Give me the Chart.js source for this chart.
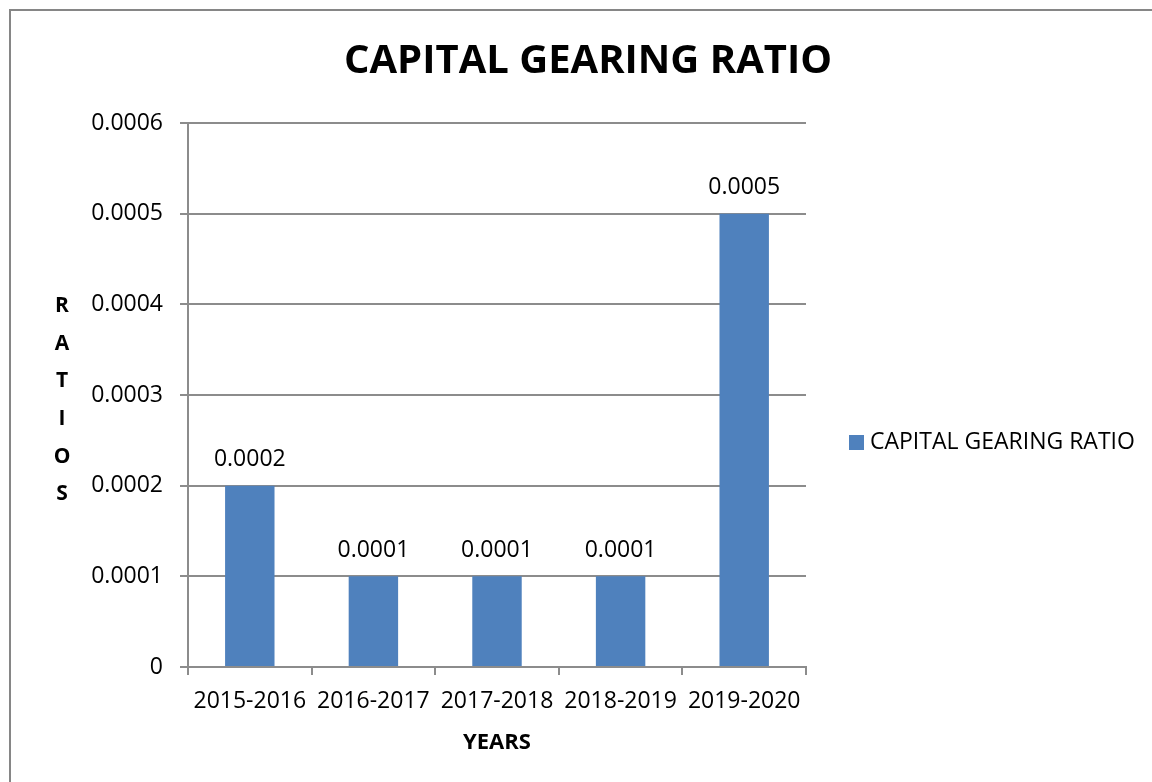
<!DOCTYPE html>
<html>
<head>
<meta charset="utf-8">
<script src="https://cdn.jsdelivr.net/npm/chart.js@4/dist/chart.umd.min.js"></script>
<style>
  html, body { margin: 0; padding: 0; background: #fff; }
  canvas { display: block; }
</style>
</head>
<body>
<canvas id="chart" width="1152" height="782"></canvas>
<script>
// chart data
const years = ["2015-2016", "2016-2017", "2017-2018", "2018-2019", "2019-2020"];
const gearingRatio = [0.0002, 0.0001, 0.0001, 0.0001, 0.0005];
const seriesName = "CAPITAL GEARING RATIO";
const chartTitle = "CAPITAL GEARING RATIO";
const xTitle = "YEARS";
const yTitleLetters = ["R", "A", "T", "I", "O", "S"];
const yMax = 0.0006;
const yStep = 0.0001;

const barColor = "#4F81BD";
const lineColor = "#8c8c8c";
const fontFamily = "'Open Sans', 'DejaVu Sans', sans-serif";

// frame, title, legend, stacked y title and value labels
const extras = {
  id: "extras",
  beforeDraw(c) {
    const ctx = c.ctx;
    ctx.save();
    ctx.strokeStyle = "#868686";
    ctx.lineWidth = 2;
    ctx.strokeRect(10, 10, 1300, 1000);
    ctx.restore();
  },
  afterDraw(c) {
    const ctx = c.ctx;
    ctx.save();
    ctx.fillStyle = "#000";

    // title
    ctx.font = "bold 40px " + fontFamily;
    ctx.textAlign = "center";
    ctx.textBaseline = "middle";
    ctx.fillText(chartTitle, 588, 62);

    // y title, one letter per line
    ctx.font = "bold 21px " + fontFamily;
    yTitleLetters.forEach((l, i) => {
      ctx.fillText(l, 62, 306 + i * 37.7);
    });

    // legend
    ctx.fillStyle = barColor;
    ctx.fillRect(849, 435, 15, 15);
    ctx.fillStyle = "#000";
    ctx.font = "23px " + fontFamily;
    ctx.textAlign = "left";
    ctx.fillText(seriesName, 870, 442);

    // value labels above bars
    ctx.textAlign = "center";
    const meta = c.getDatasetMeta(0);
    meta.data.forEach((bar, i) => {
      ctx.fillText(gearingRatio[i].toFixed(4), bar.x, bar.y - 26);
    });
    ctx.restore();
  },
};

new Chart(document.getElementById("chart"), {
  type: "bar",
  data: {
    labels: years,
    datasets: [
      {
        label: seriesName,
        data: gearingRatio,
        backgroundColor: barColor,
        barPercentage: 0.4,
        categoryPercentage: 1,
      },
    ],
  },
  options: {
    responsive: false,
    animation: false,
    devicePixelRatio: 1,
    layout: { padding: { top: 123, left: 0, right: 346, bottom: 0 } },
    plugins: {
      legend: { display: false },
      title: { display: false },
      tooltip: { enabled: false },
    },
    scales: {
      x: {
        afterFit: (scale) => { scale.height = 115; },
        grid: {
          display: true,
          offset: true,
          drawOnChartArea: false,
          drawTicks: true,
          tickLength: 8,
          color: lineColor,
          lineWidth: 2,
        },
        border: { display: true, color: lineColor, width: 2 },
        ticks: {
          color: "#000",
          padding: 13,
          maxRotation: 0,
          font: { family: fontFamily, size: 23 },
        },
        title: {
          display: true,
          text: xTitle,
          color: "#000",
          font: { family: fontFamily, size: 22, weight: "bold" },
          padding: { top: 0, bottom: 26 },
        },
      },
      y: {
        min: 0,
        max: yMax,
        afterFit: (scale) => { scale.width = 188; },
        grid: {
          color: lineColor,
          lineWidth: 2,
          drawTicks: true,
          tickLength: 8,
        },
        border: { display: true, color: lineColor, width: 2 },
        ticks: {
          stepSize: yStep,
          color: "#000",
          padding: 17,
          font: { family: fontFamily, size: 23 },
          callback: (v) => (v === 0 ? "0" : Number(v).toFixed(4)),
        },
      },
    },
  },
  plugins: [extras],
});
</script>
</body>
</html>
